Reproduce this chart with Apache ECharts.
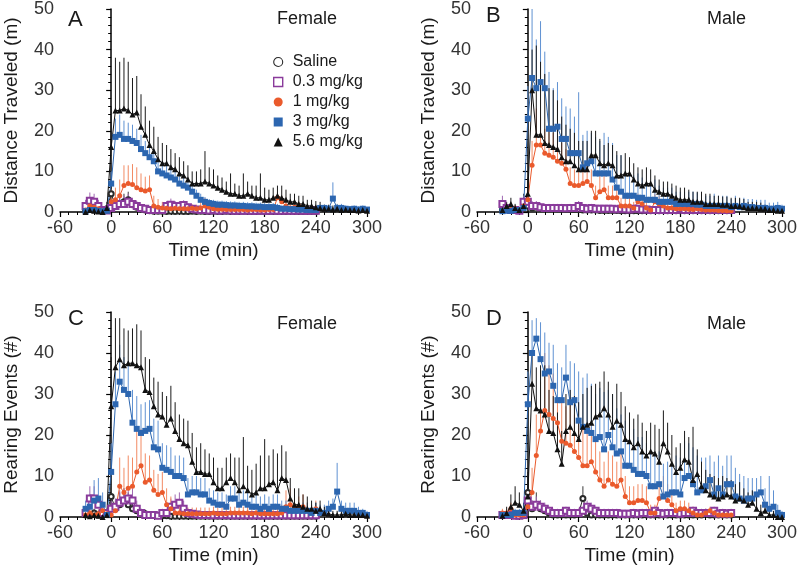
<!DOCTYPE html>
<html><head><meta charset="utf-8">
<script src="https://cdn.jsdelivr.net/npm/echarts@6.0.0/dist/echarts.min.js"></script>
<style>html,body{margin:0;padding:0;background:#fff}#c{width:800px;height:570px}</style>
</head><body><div id="c"></div>
<script>
// ---------- data ----------
const TIME = [-30,-25,-20,-15,-10,-5,0,5,10,15,20,25,30,35,40,45,50,55,60,65,70,75,80,85,90,95,100,105,110,115,120,125,130,135,140,145,150,155,160,165,170,175,180,185,190,195,200,205,210,215,220,225,230,235,240,245,250,255,260,265,270,275,280,285,290,295,300];
const GROUPS = ['Saline','0.3 mg/kg','1 mg/kg','3 mg/kg','5.6 mg/kg'];
const PANEL_LETTERS = ['A','B','C','D'];
const PANEL_SEX = ['Female','Male','Female','Male'];
const Y_TITLES = ['Distance Traveled (m)','Distance Traveled (m)','Rearing Events (#)','Rearing Events (#)'];
const X_TITLE = 'Time (min)';

// Panel A: female, distance
const A_sal = [0.3,1.0,0.8,0.5,0.2,0.8, 4.5,1.5,2.0,2.5,3.0,1.8,1.2,0.8,0.5,0.3, 0.2,0.2,0.2,0.1,0.2,0.1,0.2,0.1,0.1,0.2, 0.1,0.2,0.1,0.1,0.2,0.1,0.1,0.2,0.1,0.1, 0.1,0.2,0.1,0.1,0.1,0.2,0.1,0.1,0.1,0.1, 0.1,0.1,0.2,0.1,0.1,0.1,0.1,0.1,0.1];
const A_sal_err = [0.5,1.2,0.8,0.5,0.3,0.8, 3.5,1.0,1.5,2.0,2.0,1.5,1.0,0.8,0.5,0.3, 0.3,0.3,0.3,0.2,0.3,0.2,0.3,0.2,0.2,0.3, 0.2,0.3,0.2,0.2,0.3,0.2,0.2,0.3,0.2,0.2, 0.2,0.3,0.2,0.2,0.2,0.3,0.2,0.2,0.2,0.2, 0.2,0.2,0.3,0.2,0.2,0.2,0.2,0.2,0.2];
const A_p3 = [1.5,2.8,2.5,1.5,0.5,0.4, 1.0,1.5,2.0,2.0,2.5,2.0,1.5,1.0,0.8,0.5, 0.5,0.5,0.5,1.5,1.8,1.5,1.5,1.7,1.2,0.8, 0.6,0.5,0.5,0.4,0.5,0.4,0.4,0.5,0.4,0.3, 0.4,0.3,0.4,0.3,0.3,0.4,0.3,0.3,0.4,0.3, 0.3,0.4,0.3,0.3,0.4,0.3,0.3,0.3,0.3];
const A_p3_err = [1.5,2.0,2.0,1.5,0.8,0.5, 1.0,1.5,2.0,2.0,2.0,1.5,1.2,1.0,0.8,0.5, 0.5,0.5,0.5,1.2,1.5,1.2,1.2,1.2,1.0,0.8, 0.5,0.5,0.5,0.4,0.5,0.4,0.4,0.5,0.4,0.4, 0.4,0.4,0.4,0.4,0.4,0.4,0.4,0.4,0.4,0.4, 0.4,0.4,0.4,0.4,0.4,0.4,0.4,0.4,0.4];
const A_m1 = [0.5,1.5,1.2,0.8,0.3,0.3, 2.5,3.0,4.0,6.5,7.0,6.8,6.0,5.5,5.2,5.5, 1.5,1.2,1.0,0.9,0.8,0.9,0.8,0.8,0.8,0.9, 0.8,1.0,1.5,1.2,0.8,0.7,0.7,0.6,0.6,0.6, 0.6,0.6,0.5,0.6,0.6,0.5,0.5,0.6,0.6,3.5, 2.5,1.5,1.0,1.2,1.5,1.2,0.8,0.5,0.5];
const A_m1_err = [0.8,1.5,1.2,0.8,0.5,0.5, 3.0,3.0,4.0,5.0,4.5,5.0,5.0,4.0,3.5,3.5, 2.5,2.0,1.5,1.0,1.0,1.0,1.0,1.0,1.0,1.0, 1.0,1.5,2.0,1.5,1.0,0.8,0.8,0.8,0.8,0.8, 0.8,0.8,0.8,0.8,0.8,0.8,0.8,0.8,0.8,1.5, 1.5,1.0,0.8,1.0,1.0,1.0,0.8,0.5,0.5];
const A_m3 = [0.2,0.5,0.5,0.3,0.2,0.3, 7.0,18.5,19.0,18.0,18.0,17.5,17.0,15.5,14.5,13.5, 12.5,10.0,9.5,9.0,8.5,8.0,7.0,6.5,6.0,5.0, 4.0,3.0,2.5,2.2,2.0,1.8,1.8,1.7,1.6,1.6, 1.5,1.5,1.4,1.4,1.3,1.3,1.2,1.2,1.2,1.0, 0.8,0.8,0.7,0.7,0.6,0.6,0.5,0.5,0.5,1.0, 1.0,0.8,3.3,1.0,1.0,0.8,0.7,0.8,0.6,0.8,0.6];
const A_m3_err = [0.3,0.5,0.5,0.3,0.3,0.3, 3.0,4.5,5.0,4.5,4.0,4.0,3.5,3.5,3.0,3.0, 3.0,3.0,3.0,2.5,2.5,2.5,2.0,2.0,2.0,2.0, 1.5,1.5,1.2,1.0,1.0,1.0,1.0,1.0,1.0,1.0, 1.0,1.0,1.0,1.0,1.0,1.0,1.0,1.0,1.0,1.0, 0.8,0.8,0.8,0.8,0.8,0.8,0.8,0.8,0.8,0.8, 0.8,0.8,4.0,1.0,1.0,0.8,0.8,0.8,0.8,0.8,0.6];
const A_m56 = [0.0,0.5,0.3,0.1,0.0,1.0, 16.0,25.0,25.0,25.5,25.0,24.0,24.5,21.0,19.0,16.5, 15.0,13.0,12.0,12.0,11.0,10.5,9.5,9.0,8.0,7.0, 7.0,7.0,7.5,7.0,6.5,6.0,5.5,5.0,4.5,4.5, 4.0,4.0,4.5,4.0,3.5,3.5,3.0,3.0,3.5,4.0, 3.5,3.0,2.5,2.5,2.0,2.0,1.5,1.5,1.2,1.0, 0.8,0.8,0.6,0.8,0.5,0.6,0.5,0.5,0.4,0.5,0.3];
const A_m56_err = [0.3,0.8,0.5,0.3,0.2,1.5, 10.0,13.0,12.0,12.5,12.0,9.0,9.0,8.0,7.0,6.0, 6.0,5.5,5.0,4.5,4.5,4.0,4.0,3.5,3.5,3.0, 3.0,3.5,7.5,4.0,4.0,3.0,3.0,2.5,5.0,2.5, 2.5,5.5,3.0,2.5,3.0,6.0,3.0,2.5,2.5,2.5, 3.0,2.5,2.0,2.0,2.0,2.0,1.5,1.5,1.5,1.5, 1.0,1.0,1.0,1.0,0.8,0.8,0.8,0.8,0.8,0.8,0.5];

// Panel B: male, distance
const B_sal = [0.5,0.8,0.5,0.5,0.3,2.5, 1.5,1.0,1.2,1.0,1.0,0.8,0.8,0.8,0.7,0.7, 0.6,0.6,0.6,0.5,0.5,0.5,0.5,0.4,0.4,0.4, 0.4,0.4,0.3,0.3,0.3,0.3,0.3,0.3,0.3,0.3, 0.3,0.3,0.3,0.3,0.3,0.3,0.3,0.3,0.3,0.3, 0.3,0.3,0.3,0.3,0.3,0.3,0.3,0.3,0.3];
const B_sal_err = [0.5,0.8,0.5,0.5,0.3,2.0, 1.5,1.0,1.0,1.0,0.8,0.8,0.8,0.8,0.6,0.6, 0.5,0.5,0.5,0.5,0.5,0.5,0.5,0.4,0.4,0.4, 0.4,0.4,0.4,0.4,0.4,0.4,0.4,0.4,0.4,0.4, 0.3,0.3,0.3,0.3,0.3,0.3,0.3,0.3,0.3,0.3, 0.3,0.3,0.3,0.3,0.3,0.3,0.3,0.3,0.3];
const B_p3 = [2.0,1.0,0.5,0.5,0.3,2.5, 2.5,1.5,1.5,1.2,1.0,1.0,1.0,1.0,1.0,0.9, 1.0,1.0,1.5,1.0,0.8,1.0,0.8,0.8,0.8,0.8, 0.8,0.7,0.8,0.7,0.6,0.8,0.8,0.6,0.6,0.5, 0.5,0.5,0.5,0.5,0.5,0.5,0.8,0.5,0.5,0.5, 0.5,0.5,0.5,0.5,0.5,0.5,0.5,0.5,0.5];
const B_p3_err = [2.0,1.0,0.8,0.8,0.5,1.5, 1.5,1.2,1.2,1.0,1.0,1.0,1.0,1.0,1.0,1.0, 1.0,1.0,1.2,1.0,0.8,1.0,0.8,0.8,0.8,0.8, 0.8,0.8,0.8,0.8,0.6,0.8,0.8,0.6,0.6,0.5, 0.5,0.5,0.5,0.5,0.5,0.5,0.5,0.5,0.5,0.5, 0.5,0.5,0.5,0.5,0.5,0.5,0.5,0.5,0.5];
const B_m1 = [0.3,0.5,0.8,0.8,0.5,1.5, 3.0,11.5,16.5,16.5,14.5,14.0,13.5,12.5,12.0,10.5, 7.0,6.5,6.5,7.0,7.5,6.5,3.5,5.0,5.5,3.5, 3.5,3.5,1.5,1.5,1.5,1.0,2.5,2.0,1.0,0.5, 2.5,2.0,1.5,1.0,1.0,0.8,0.8,0.8,0.7,0.6, 0.8,0.6,0.5,0.5,0.5,0.4,0.4,0.3,0.3];
const B_m1_err = [0.5,0.5,0.8,0.8,0.5,1.0, 2.0,6.0,9.0,7.0,6.0,6.0,6.0,5.0,5.0,5.0, 4.0,4.0,4.0,4.0,4.0,4.0,3.0,4.0,4.0,3.0, 3.0,3.0,2.0,2.0,2.0,1.5,2.0,2.0,1.5,1.0, 2.0,2.0,1.5,1.0,1.0,1.0,1.0,1.0,1.0,1.0, 0.8,0.8,0.8,0.8,0.8,0.8,0.8,0.8,0.8];
const B_m3 = [0.2,0.3,0.3,0.5,0.5,1.0, 23.0,33.0,30.5,32.0,30.5,20.5,20.5,21.0,18.0,18.0, 14.5,14.5,14.5,11.0,12.0,12.5,9.5,9.5,9.5,9.5, 8.0,6.0,5.0,4.0,4.0,4.0,3.5,3.5,3.0,3.0, 3.0,2.5,2.5,2.5,2.5,2.0,2.0,2.0,2.0,2.0, 1.8,1.8,1.5,1.5,1.5,1.5,1.5,1.5,1.2,1.5, 1.2,1.5,1.2,1.2,1.0,1.0,1.0,0.8,0.8,1.0,0.8];
const B_m3_err = [0.5,0.5,0.5,0.5,0.8,1.0, 8.0,17.0,12.0,15.0,9.0,14.0,10.0,11.0,10.0,8.0, 11.0,9.0,15.0,8.0,8.0,7.0,9.0,8.0,10.0,9.0, 9.0,8.0,9.0,6.0,6.0,5.0,6.0,5.0,4.0,4.0, 5.0,4.0,3.5,3.5,3.5,3.0,3.0,3.0,3.0,3.0, 3.0,3.0,2.5,2.5,3.0,2.5,2.5,2.5,2.0,2.5, 2.0,2.0,2.0,2.0,2.0,2.0,2.0,1.5,1.5,1.5,1.0];
const B_m56 = [0.5,1.5,2.0,1.0,0.5,1.5, 4.5,30.0,19.0,19.0,17.0,16.5,16.0,15.5,13.5,12.5, 12.5,11.5,10.5,10.5,10.5,14.0,14.0,12.0,11.5,12.0, 11.5,9.0,9.0,9.5,9.5,8.0,7.0,6.5,7.0,7.0, 5.5,5.0,4.5,4.5,4.0,3.5,3.0,3.0,3.0,2.5, 2.5,2.5,2.0,2.0,2.0,2.0,1.8,1.8,1.5,1.5, 1.5,1.2,1.0,1.0,1.0,0.8,0.8,0.5,0.5,0.3,0.3];
const B_m56_err = [0.5,1.0,1.5,1.0,0.5,1.5, 4.0,10.0,22.0,18.0,17.0,14.0,14.0,12.0,10.0,9.0, 8.0,8.0,7.0,7.0,7.0,6.0,6.0,6.0,5.0,5.0, 5.0,6.0,5.0,5.0,4.0,4.0,4.0,4.0,4.0,3.5, 3.5,3.0,3.0,3.0,3.0,3.0,3.0,3.0,2.5,2.5, 2.5,2.5,2.5,2.5,2.0,2.0,2.0,2.0,2.0,2.0, 2.0,2.0,1.5,1.5,1.5,1.5,1.0,1.0,1.0,1.0,0.5];

// Panel C: female, rearing
const C_sal = [0.5,0.5,1.0,0.5,0.5,1.0, 5.0,2.0,3.0,4.0,3.0,2.0,1.5,1.0,0.8,0.5, 0.5,0.3,0.3,0.3,0.2,0.2,0.2,0.2,0.2,0.2, 0.2,0.2,0.2,0.2,0.2,0.2,0.2,0.2,0.2,0.2, 0.2,0.2,0.2,0.2,0.2,0.2,0.2,0.2,0.2,0.2, 0.2,0.2,0.2,0.2,0.2,0.2,0.2,0.2,0.2];
const C_sal_err = [1.0,1.0,1.0,1.0,1.0,1.0, 4.0,2.0,3.0,3.0,3.0,2.0,1.5,1.0,1.0,0.5, 0.5,0.3,0.3,0.3,0.3,0.3,0.3,0.3,0.3,0.3, 0.3,0.3,0.3,0.3,0.3,0.3,0.3,0.3,0.3,0.3, 0.3,0.3,0.3,0.3,0.3,0.3,0.3,0.3,0.3,0.3, 0.3,0.3,0.3,0.3,0.3,0.3,0.3,0.3,0.3];
const C_p3 = [1.0,4.5,4.5,3.0,1.0,1.0, 2.0,2.5,3.5,4.0,4.5,4.0,2.0,1.0,0.5,0.5, 0.5,0.3,1.0,1.0,2.5,3.0,3.5,2.0,1.0,0.8, 0.6,0.5,0.5,0.5,0.4,0.5,0.4,0.5,0.4,0.4, 0.4,0.4,0.4,0.4,0.4,0.4,0.4,0.4,0.4,0.4, 0.4,0.4,0.4,0.4,0.4,0.4,0.4,0.4,0.4];
const C_p3_err = [1.0,3.0,3.0,2.0,1.0,1.0, 2.0,2.0,3.0,3.0,3.0,3.0,2.0,1.0,0.5,0.5, 0.5,0.5,1.0,1.0,2.0,2.5,2.5,2.0,1.0,1.0, 0.5,0.5,0.5,0.5,0.5,0.5,0.5,0.5,0.5,0.5, 0.5,0.5,0.5,0.5,0.5,0.5,0.5,0.5,0.5,0.5, 0.5,0.5,0.5,0.5,0.5,0.5,0.5,0.5,0.5];
const C_m1 = [0.5,1.0,0.5,0.8,1.5,0.8, 0.5,1.5,7.5,6.0,7.0,7.5,11.0,12.5,8.5,9.0, 6.5,5.5,6.0,3.0,2.0,1.0,1.0,0.8,0.8,0.8, 0.8,0.8,0.8,0.8,1.0,0.8,0.8,0.8,1.0,1.0, 1.0,1.0,1.0,0.8,1.0,0.8,0.8,0.8,0.8,0.8, 1.0,2.5,3.0,2.5,2.0,2.5,1.5,1.0,2.0];
const C_m1_err = [1.0,1.5,1.0,1.0,1.5,1.0, 1.0,2.0,7.0,6.0,8.0,7.0,10.0,9.0,7.0,6.0, 5.0,5.0,5.0,4.0,3.0,2.0,2.0,1.5,1.5,1.5, 1.5,1.5,1.5,1.5,1.5,1.5,1.5,1.5,1.5,1.5, 1.5,1.5,1.5,1.5,1.5,1.5,1.5,1.5,1.5,1.5, 2.0,4.0,4.0,3.0,3.0,3.0,2.0,2.0,2.0];
const C_m3 = [2.0,2.5,4.0,4.5,3.0,0.5, 11.0,27.5,33.0,31.0,30.0,23.0,21.5,20.5,21.0,21.5, 17.0,16.5,12.0,11.5,11.0,10.0,10.0,9.5,5.5,6.0, 6.0,5.5,5.5,4.0,3.5,3.0,3.0,2.5,4.5,4.5, 3.0,3.5,3.0,2.5,2.5,2.0,2.5,2.0,2.5,2.5, 2.0,2.0,1.5,1.5,1.5,1.5,1.5,1.0,1.5,1.0, 1.0,2.0,2.5,6.2,2.0,1.5,1.5,1.5,1.0,1.0,0.5];
const C_m3_err = [2.0,3.0,5.0,5.0,3.0,1.0, 7.0,8.0,9.0,8.0,8.0,8.0,8.0,7.0,7.0,7.0, 7.0,7.0,6.0,6.0,6.0,5.0,5.0,5.0,4.0,4.0, 4.0,4.0,4.0,3.0,3.0,3.0,3.0,3.0,3.0,3.0, 3.0,3.0,3.0,3.0,3.0,3.0,3.0,3.0,3.0,3.0, 2.0,2.0,2.0,2.0,2.0,2.0,2.0,2.0,2.0,2.0, 2.0,2.0,2.0,7.0,2.0,2.0,2.0,2.0,1.5,1.0,1.0];
const C_m56 = [0.5,0.2,0.5,0.3,0.0,0.5, 27.0,36.5,38.5,37.0,37.5,37.5,37.0,36.5,31.0,30.5, 27.0,25.0,24.5,22.5,24.0,21.0,19.0,18.0,17.5,13.5, 11.0,11.0,10.5,10.5,8.5,7.0,7.0,8.5,9.5,8.5, 6.5,7.5,6.5,5.5,6.0,7.0,7.0,8.0,8.5,6.5, 9.5,9.0,4.5,3.0,3.0,2.5,2.0,2.0,1.5,2.0, 1.0,0.8,0.5,0.5,0.5,0.8,0.5,0.5,0.5,0.5,0.3];
const C_m56_err = [0.5,0.3,0.5,0.3,0.2,0.5, 12.0,12.0,10.0,9.0,8.0,8.5,10.0,9.0,8.0,8.0, 7.0,8.0,6.0,7.0,8.0,7.0,6.0,6.0,6.0,7.0, 6.0,7.0,6.0,5.0,6.0,5.0,5.0,6.0,6.0,6.0, 8.0,12.0,6.0,6.0,7.0,8.0,12.0,7.0,8.0,9.0, 8.0,7.0,5.0,4.0,4.0,3.0,3.0,2.0,2.0,2.0, 1.5,1.5,1.0,1.0,1.0,1.0,1.0,1.0,1.0,1.0,0.5];

// Panel D: male, rearing
const D_sal = [0.3,0.5,0.5,0.5,0.5,1.0, 6.0,2.0,3.0,2.0,1.5,1.0,0.5,0.5,0.5,0.5, 0.5,0.5,1.0,4.5,1.0,0.5,0.5,0.5,0.5,0.5, 0.5,0.5,0.5,0.5,0.5,0.5,0.5,0.5,0.5,0.5, 0.5,0.5,0.5,0.5,0.5,0.5,0.5,0.5,0.5,0.5, 0.5,0.5,1.0,0.5,0.5,0.5,0.5,0.5,0.5];
const D_sal_err = [0.5,0.5,0.5,0.5,0.5,1.0, 4.0,2.0,3.0,2.0,1.5,1.0,0.5,0.5,0.5,0.5, 0.5,0.5,1.0,3.0,1.0,0.5,0.5,0.5,0.5,0.5, 0.5,0.5,0.5,0.5,0.5,0.5,0.5,0.5,0.5,0.5, 0.5,0.5,0.5,0.5,0.5,0.5,0.5,0.5,0.5,0.5, 0.5,0.5,1.0,0.5,0.5,0.5,0.5,0.5,0.5];
const D_p3 = [0.5,0.5,0.5,0.3,0.3,0.5, 4.0,2.5,3.0,2.5,2.0,1.5,1.0,1.0,1.0,1.5, 1.0,1.0,1.0,1.5,2.5,2.0,1.5,1.0,1.0,1.0, 1.0,1.0,0.8,0.8,0.8,1.0,0.8,1.0,1.0,0.8, 1.5,1.0,0.8,1.0,1.0,1.0,0.8,1.0,1.0,1.5, 1.0,1.0,1.0,1.0,1.5,0.8,1.0,0.8,1.0];
const D_p3_err = [1.0,1.0,1.0,0.8,0.8,1.0, 2.0,1.5,2.0,1.5,1.5,1.0,1.0,1.0,1.0,1.0, 1.0,1.0,1.0,1.0,1.5,1.5,1.0,1.0,1.0,1.0, 1.0,1.0,1.0,1.0,1.0,1.0,1.0,1.0,1.0,1.0, 1.0,1.0,1.0,1.0,1.0,1.0,1.0,1.0,1.0,1.0, 1.0,1.0,1.0,1.0,1.0,1.0,1.0,1.0,1.0];
const D_m1 = [1.0,1.0,2.0,0.5,0.5,0.5, 2.5,6.0,15.0,21.0,26.0,25.0,24.0,23.0,18.5,18.0, 17.5,16.0,14.5,12.5,12.5,13.5,11.0,9.0,7.5,9.0, 8.0,7.5,9.0,5.0,3.5,3.5,4.0,4.0,3.5,1.0, 1.0,4.5,5.0,4.0,3.0,1.5,2.0,2.0,1.5,1.0, 0.5,0.5,1.0,1.5,1.0,0.5,0.5,0.5,0.5];
const D_m1_err = [1.0,1.0,1.5,0.5,0.5,0.5, 2.0,6.0,10.0,12.0,14.0,12.0,11.0,10.0,10.0,9.0, 10.0,9.0,9.0,9.0,8.0,9.0,8.0,7.0,6.0,7.0, 7.0,6.0,7.0,5.0,4.0,4.0,4.0,4.0,4.0,2.0, 2.0,4.0,5.0,4.0,3.0,2.0,2.0,2.0,2.0,1.5, 1.0,1.0,1.0,1.0,1.0,1.0,1.0,1.0,1.0];
const D_m3 = [0.5,0.5,0.5,1.0,1.0,1.0, 27.5,40.0,43.5,38.5,35.0,35.5,32.0,28.5,28.5,34.0, 28.0,28.5,23.5,22.0,21.0,20.5,19.0,19.5,16.5,20.0, 17.0,15.5,16.0,12.5,12.5,11.5,10.5,10.5,10.0,7.5, 7.5,8.0,5.0,5.5,6.0,6.0,5.5,9.5,10.0,8.0, 6.0,6.5,7.5,9.0,5.5,7.0,5.5,8.0,8.0,5.0, 4.5,4.0,4.5,4.5,5.5,6.0,3.0,2.0,2.5,1.0,0.5];
const D_m3_err = [0.5,0.5,0.5,1.0,1.0,1.0, 8.0,8.0,5.0,9.0,10.0,7.0,10.0,9.0,8.0,8.0, 10.0,9.0,12.0,12.0,14.0,12.0,11.0,12.0,14.0,11.0, 13.0,11.0,9.0,11.0,10.0,10.0,9.0,9.0,8.0,9.0, 8.0,8.0,8.0,8.0,7.0,9.0,9.0,9.0,8.0,9.0, 9.0,8.0,7.0,6.0,8.0,8.0,7.0,7.0,7.0,7.0, 6.0,6.0,5.0,5.0,4.0,4.0,4.0,8.0,4.0,2.0,1.0];
const D_m56 = [0.3,1.0,2.5,3.5,3.0,1.5, 5.0,32.5,26.5,26.0,25.0,21.0,20.5,16.5,13.0,21.0, 22.0,20.5,19.0,22.0,22.5,23.0,24.5,25.0,26.5,25.0, 22.0,23.5,22.5,19.0,18.5,17.0,18.0,16.0,15.0,16.0, 15.5,13.5,18.0,16.0,13.0,11.0,12.0,14.0,13.5,9.0, 10.5,7.5,6.5,5.5,5.0,4.5,5.0,5.5,5.0,4.0, 4.5,4.0,3.0,3.5,2.0,1.0,1.5,0.5,0.5,0.0,0.0];
const D_m56_err = [0.5,1.5,3.0,4.0,3.0,2.0, 6.0,8.0,10.0,11.0,12.0,10.0,9.0,9.0,8.0,9.0, 9.0,9.0,9.0,8.0,9.0,9.0,8.0,8.0,9.0,8.0, 8.0,9.0,8.0,8.0,7.0,7.0,7.0,7.0,6.0,7.0, 7.0,8.0,8.0,7.0,7.0,6.0,6.0,7.0,6.0,13.0, 6.0,6.0,5.0,5.0,5.0,5.0,5.0,4.0,4.0,4.0, 4.0,3.0,3.0,3.0,3.0,2.0,2.0,2.0,1.0,1.0,0.5];

const PANEL_MEANS = [
  [A_sal, A_p3, A_m1, A_m3, A_m56],
  [B_sal, B_p3, B_m1, B_m3, B_m56],
  [C_sal, C_p3, C_m1, C_m3, C_m56],
  [D_sal, D_p3, D_m1, D_m3, D_m56]
];
const PANEL_ERRS = [
  [A_sal_err, A_p3_err, A_m1_err, A_m3_err, A_m56_err],
  [B_sal_err, B_p3_err, B_m1_err, B_m3_err, B_m56_err],
  [C_sal_err, C_p3_err, C_m1_err, C_m3_err, C_m56_err],
  [D_sal_err, D_p3_err, D_m1_err, D_m3_err, D_m56_err]
];

// ---------- style ----------
const FONT = 'Liberation Sans, Arial, Helvetica, sans-serif';
const COLORS = ['#2a2a2a','#8a3b9b','#ea5a2c','#2c66b0','#111111'];
const ERR_COLORS = ['#3a3a3a','#a069b2','#f28a63','#5f91d2','#1a1a1a'];
const SYMBOLS = ['emptyCircle','emptyRect','circle','rect','triangle'];
const SYM_SIZES = [5,6,5,6,6];
const GRIDS = [
  {left:60, top:8, width:307, height:204},
  {left:477, top:8, width:308, height:204},
  {left:60, top:312, width:307, height:205},
  {left:477, top:312, width:308, height:205}
];

const xAxes = [], yAxes = [], series = [];
GRIDS.forEach((g, k) => {
  xAxes.push({
    type:'value', gridIndex:k, min:-60, max:300, interval:60,
    name:X_TITLE, nameLocation:'middle', nameGap:29,
    nameTextStyle:{fontSize:19, color:'#1a1a1a', fontFamily:FONT},
    axisLine:{onZero:false, lineStyle:{color:'#000', width:1.5}},
    axisTick:{show:true, length:5, lineStyle:{color:'#000', width:1.2}},
    minorTick:{show:true, splitNumber:6, length:3, lineStyle:{color:'#000', width:1}},
    splitLine:{show:false},
    axisLabel:{fontSize:18, color:'#333', fontFamily:FONT, margin:7}
  });
  yAxes.push({
    type:'value', gridIndex:k, min:0, max:50, interval:10,
    name:Y_TITLES[k], nameLocation:'middle', nameGap:39,
    nameTextStyle:{fontSize:19, color:'#1a1a1a', fontFamily:FONT},
    axisLine:{show:true, lineStyle:{color:'#000', width:1.5}},
    axisTick:{show:true, length:5, lineStyle:{color:'#000', width:1.2}},
    minorTick:{show:true, splitNumber:5, length:3, lineStyle:{color:'#000', width:1}},
    splitLine:{show:false},
    axisLabel:{fontSize:18, color:'#333', fontFamily:FONT, margin:6}
  });
  for (let i = 0; i < GROUPS.length; i++) {
    const mean = PANEL_MEANS[k][i], err = PANEL_ERRS[k][i];
    const ec = ERR_COLORS[i];
    series.push({
      type:'custom', name:GROUPS[i] + ' SEM', xAxisIndex:k, yAxisIndex:k, silent:true,
      data: mean.map((v, j) => [TIME[j], v, v + err[j]]),
      encode:{x:0, y:[1,2]},
      renderItem: (params, api) => {
        const p0 = api.coord([api.value(0), api.value(1)]);
        const p1 = api.coord([api.value(0), api.value(2)]);
        return {type:'line', shape:{x1:p0[0], y1:p0[1], x2:p1[0], y2:p1[1]},
                style:{stroke:ec, lineWidth:1}};
      }
    });
    series.push({
      type:'line', name:GROUPS[i], xAxisIndex:k, yAxisIndex:k,
      data: mean.map((v, j) => [TIME[j], v]),
      symbol:SYMBOLS[i], symbolSize:SYM_SIZES[i], showAllSymbol:true,
      itemStyle:{color:COLORS[i], borderWidth: i < 2 ? 1.1 : 0},
      lineStyle:{color:COLORS[i], width:1},
      emphasis:{disabled:true}
    });
  }
});

const graphics = [];
const LETTER_POS = [[68,9],[486,5],[68,308],[486,308]];
const SEX_POS = [[277,10],[707,10],[277,315],[707,315]];
for (let k = 0; k < 4; k++) {
  graphics.push({type:'text', left:LETTER_POS[k][0], top:LETTER_POS[k][1],
    style:{text:PANEL_LETTERS[k], fontSize:22, fill:'#1a1a1a', fontFamily:FONT}});
  graphics.push({type:'text', left:SEX_POS[k][0], top:SEX_POS[k][1],
    style:{text:PANEL_SEX[k], fontSize:18, fill:'#1a1a1a', fontFamily:FONT}});
}

const chart = echarts.init(document.getElementById('c'), null, {renderer:'canvas'});
chart.setOption({
  animation:false,
  backgroundColor:'#fff',
  grid: GRIDS,
  xAxis: xAxes,
  yAxis: yAxes,
  series: series,
  graphic: graphics,
  legend: {
    orient:'vertical', left:268, top:49, itemWidth:9, itemHeight:9, itemGap:4,
    selectedMode:false,
    textStyle:{fontSize:16, color:'#1a1a1a', fontFamily:FONT, padding:[0,0,0,5]},
    data: [
      {name:GROUPS[0], icon:'circle', itemStyle:{color:'#fff', borderColor:COLORS[0], borderWidth:1.1}},
      {name:GROUPS[1], icon:'rect', itemStyle:{color:'#fff', borderColor:COLORS[1], borderWidth:1.4}},
      {name:GROUPS[2], icon:'circle', itemStyle:{color:COLORS[2]}},
      {name:GROUPS[3], icon:'rect', itemStyle:{color:COLORS[3]}},
      {name:GROUPS[4], icon:'triangle', itemStyle:{color:COLORS[4]}}
    ]
  }
});
</script></body></html>
